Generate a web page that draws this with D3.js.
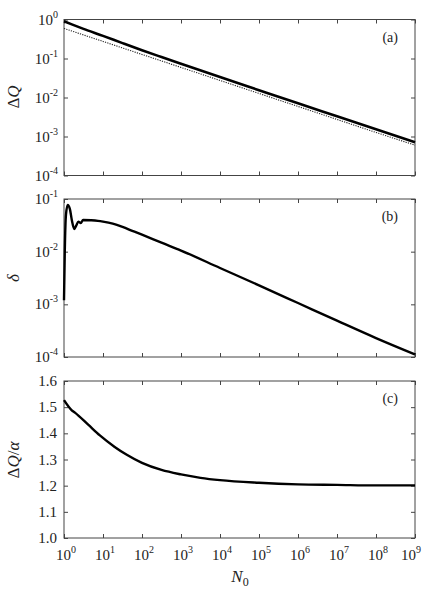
<!DOCTYPE html>
<html>
<head>
<meta charset="utf-8">
<script src="https://cdn.jsdelivr.net/npm/d3@7"></script>
<style>
  body { margin: 0; background: #fff; }
  text { font-family: "Liberation Serif", "DejaVu Serif", serif; fill: #222; }
</style>
</head>
<body>
<svg id="chart" width="423" height="591"></svg>
<script>
// x = N0, als Exponent (N0 = 10^k)
const xTickExp = [0, 1, 2, 3, 4, 5, 6, 7, 8, 9];

// (a) ΔQ – dicke Linie und gepunktete Linie
const aSolidExp = [0, 0.2, 0.5, 1, 1.5, 2, 2.5, 3, 4, 5, 6, 7, 8, 9];
const aSolidVal = [0.90, 0.75, 0.575, 0.380, 0.248, 0.163, 0.109, 0.0733, 0.0334, 0.0154, 0.00711, 0.0033, 0.00153, 0.00071];
const aDotExp = [0, 1, 2, 3, 4, 5, 6, 7, 8, 9];
const aDotVal = [0.59, 0.274, 0.127, 0.059, 0.0274, 0.0127, 0.0059, 0.00274, 0.00127, 0.0006];
const aTickExp = [0, -1, -2, -3, -4];

// (b) δ
const bExp = [0, 0.02, 0.05, 0.094, 0.15, 0.2, 0.265, 0.31, 0.37, 0.43, 0.49, 0.7, 0.87, 1, 1.25, 1.5, 1.75, 2, 2.5, 3, 4, 5, 6, 7, 8, 9];
const bVal = [0.0012, 0.01, 0.05, 0.077, 0.065, 0.04, 0.027, 0.031, 0.037, 0.035, 0.040, 0.0395, 0.0385, 0.0372, 0.0340, 0.0295, 0.0249, 0.0210, 0.0148, 0.0105, 0.0049, 0.00229, 0.00106, 0.00049, 0.000229, 0.000112];
const bTickExp = [-1, -2, -3, -4];

// (c) ΔQ/α
const cExp = [0, 0.2, 0.28, 0.62, 0.92, 1.3, 1.61, 2, 2.5, 3, 3.5, 4, 5, 6, 7, 8, 9];
const cVal = [1.527, 1.488, 1.479, 1.433, 1.392, 1.348, 1.318, 1.287, 1.260, 1.243, 1.230, 1.221, 1.211, 1.205, 1.203, 1.201, 1.201];
const cTicks = [1.0, 1.1, 1.2, 1.3, 1.4, 1.5, 1.6];

const svg = d3.select("#chart");
const left = 64, right = 415;
const panels = [
  { top: 19.5, bottom: 175.5 },
  { top: 199,  bottom: 357 },
  { top: 381,  bottom: 538 }
];

const x = d3.scaleLog().domain([1, 1e9]).range([left, right]);

function frame(p, y, yTicks) {
  const g = svg.append("g");
  const w = right - left, h = p.bottom - p.top;
  // Ticks nach innen, an allen vier Seiten
  g.append("g").attr("transform", `translate(0,${p.bottom})`)
    .call(d3.axisBottom(x).tickValues(xTickExp.map(k => 10 ** k)).tickSize(-4).tickFormat(""));
  g.append("g").attr("transform", `translate(0,${p.top})`)
    .call(d3.axisTop(x).tickValues(xTickExp.map(k => 10 ** k)).tickSize(-4).tickFormat(""));
  g.append("g").attr("transform", `translate(${left},0)`)
    .call(d3.axisLeft(y).tickValues(yTicks).tickSize(-4).tickFormat(""));
  g.append("g").attr("transform", `translate(${right},0)`)
    .call(d3.axisRight(y).tickValues(yTicks).tickSize(-4).tickFormat(""));
  g.selectAll(".domain").remove();
  g.selectAll(".tick line").attr("stroke", "#444");
  g.append("rect")
    .attr("x", left).attr("y", p.top).attr("width", w).attr("height", h)
    .attr("fill", "none").attr("stroke", "#444").attr("stroke-width", 1);
}

function powLabel(xp, yp, exp, anchor) {
  const t = svg.append("text")
    .attr("x", xp).attr("y", yp)
    .attr("text-anchor", anchor)
    .attr("font-size", "15px");
  t.append("tspan").text("10");
  t.append("tspan").attr("dy", -7).attr("font-size", "10px").text(exp);
  return t;
}

function panelLabel(p, s) {
  svg.append("text")
    .attr("x", 398).attr("y", p.top + 22)
    .attr("text-anchor", "end")
    .attr("font-size", "14px")
    .text(s);
}

const line = y => d3.line()
  .x(d => x(d[0]))
  .y(d => y(d[1]))
  .curve(d3.curveMonotoneX);

// ---- (a)
const yA = d3.scaleLog().domain([1e-4, 1]).range([panels[0].bottom, panels[0].top]);
frame(panels[0], yA, aTickExp.map(k => 10 ** k));
aTickExp.forEach(k => powLabel(58, yA(10 ** k) + 5, k === 0 ? "0" : "-" + (-k), "end"));
svg.append("path")
  .datum(aDotExp.map((k, i) => [10 ** k, aDotVal[i]]))
  .attr("d", line(yA))
  .attr("fill", "none").attr("stroke", "#222").attr("stroke-width", 1.1)
  .attr("stroke-dasharray", "1.2,1.2");
svg.append("path")
  .datum(aSolidExp.map((k, i) => [10 ** k, aSolidVal[i]]))
  .attr("d", line(yA))
  .attr("fill", "none").attr("stroke", "#000").attr("stroke-width", 2.6);
panelLabel(panels[0], "(a)");

// ---- (b)
const yB = d3.scaleLog().domain([1e-4, 1e-1]).range([panels[1].bottom, panels[1].top]);
frame(panels[1], yB, bTickExp.map(k => 10 ** k));
bTickExp.forEach(k => powLabel(58, yB(10 ** k) + 5, "-" + (-k), "end"));
svg.append("path")
  .datum(bExp.map((k, i) => [10 ** k, bVal[i]]))
  .attr("d", line(yB))
  .attr("fill", "none").attr("stroke", "#000").attr("stroke-width", 2.4);
panelLabel(panels[1], "(b)");

// ---- (c)
const yC = d3.scaleLinear().domain([1.0, 1.6]).range([panels[2].bottom, panels[2].top]);
frame(panels[2], yC, cTicks);
cTicks.forEach(v => {
  svg.append("text")
    .attr("x", 57).attr("y", yC(v) + 5)
    .attr("text-anchor", "end")
    .attr("font-size", "15px")
    .text(v.toFixed(1));
});
svg.append("path")
  .datum(cExp.map((k, i) => [10 ** k, cVal[i]]))
  .attr("d", line(yC))
  .attr("fill", "none").attr("stroke", "#000").attr("stroke-width", 2.4);
panelLabel(panels[2], "(c)");

// x-Achsenbeschriftung (letzte Beschriftung am Rand halten)
xTickExp.forEach(k => {
  const t = powLabel(x(10 ** k) + 2, 560, String(k), "middle");
  const bb = t.node().getBBox();
  if (bb.x + bb.width > 421) t.attr("x", +t.attr("x") - (bb.x + bb.width - 421));
});
const xl = svg.append("text")
  .attr("x", 240).attr("y", 582)
  .attr("text-anchor", "middle")
  .attr("font-size", "17px");
xl.append("tspan").attr("font-style", "italic").text("N");
xl.append("tspan").attr("dy", 4).attr("font-size", "12px").text("0");

// y-Achsenbeschriftungen
function yLabel(cy, parts) {
  const t = svg.append("text")
    .attr("transform", `translate(19,${cy}) rotate(-90)`)
    .attr("text-anchor", "middle")
    .attr("font-size", "17px");
  parts.forEach(([s, it]) => t.append("tspan").attr("font-style", it ? "italic" : "normal").text(s));
}
yLabel(97, [["Δ", false], ["Q", true]]);
yLabel(278, [["δ", true]]);
yLabel(460, [["Δ", false], ["Q", true], ["/", false], ["α", true]]);
</script>
</body>
</html>
